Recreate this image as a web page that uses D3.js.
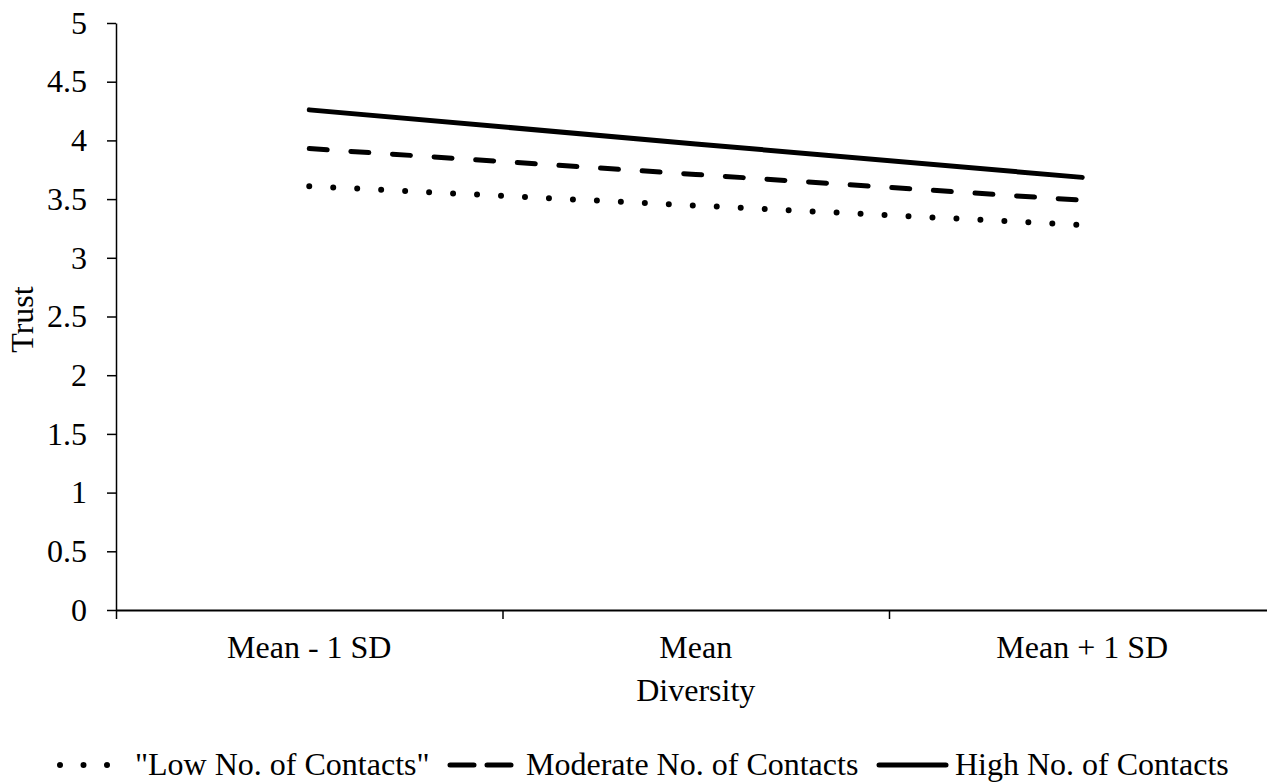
<!DOCTYPE html>
<html>
<head>
<meta charset="utf-8">
<script src="https://cdn.jsdelivr.net/npm/d3@7"></script>
<style>
  html, body { margin: 0; padding: 0; background: #fff; }
  svg { display: block; }
  text { font-family: "Times New Roman", "Liberation Serif", serif; fill: #000; }
</style>
</head>
<body>
<svg id="chart" width="1267" height="782"></svg>
<script>
// ---- data ----
const categories = ["Mean - 1 SD", "Mean", "Mean + 1 SD"];
const seriesNames = ["\"Low No. of Contacts\"", "Moderate No. of Contacts", "High No. of Contacts"];
const lowValues = [3.61, 3.445, 3.28];
const moderateValues = [3.93, 3.71, 3.49];
const highValues = [4.26, 3.97, 3.685];
const yTicks = [0, 0.5, 1, 1.5, 2, 2.5, 3, 3.5, 4, 4.5, 5];
const xTitle = "Diversity";
const yTitle = "Trust";

(function () {
const svg = d3.select("#chart");
const fontSize = 32;

const plotLeft = 116, plotRight = 1275.5, plotTop = 23, plotBottom = 610;

const x = d3.scaleBand().domain(categories).range([plotLeft, plotRight]);
const xEdges = d3.scaleLinear().domain([0, categories.length]).range([plotLeft, plotRight]);
const y = d3.scaleLinear().domain([0, 5]).range([plotBottom, plotTop]);

// Y axis
const yAxis = svg.append("g")
  .attr("transform", `translate(${plotLeft},0)`)
  .call(d3.axisLeft(y).tickValues(yTicks).tickSize(9).tickSizeOuter(0).tickPadding(20)
    .tickFormat(d => String(d)));
yAxis.select(".domain").attr("stroke", "#000").attr("stroke-width", 1.5);
yAxis.selectAll(".tick line").attr("stroke", "#000").attr("stroke-width", 1.5);
yAxis.selectAll(".tick text")
  .attr("font-size", fontSize)
  .attr("font-family", "\"Times New Roman\", \"Liberation Serif\", serif")
  .attr("dy", "0.32em");

// X axis (boundary ticks)
const xAxis = svg.append("g")
  .attr("transform", `translate(0,${plotBottom})`)
  .call(d3.axisBottom(xEdges).tickValues(d3.range(categories.length + 1)).tickSize(9).tickSizeOuter(0).tickFormat(""));
xAxis.select(".domain").attr("stroke", "#000").attr("stroke-width", 2.2);
xAxis.selectAll(".tick line").attr("stroke", "#000").attr("stroke-width", 1.5);

// category labels
svg.append("g").selectAll("text")
  .data(categories)
  .join("text")
  .attr("x", d => x(d) + x.bandwidth() / 2)
  .attr("y", plotBottom + 48)
  .attr("text-anchor", "middle")
  .attr("font-size", fontSize)
  .text(d => d);

// axis titles
svg.append("text")
  .attr("x", x(categories[1]) + x.bandwidth() / 2)
  .attr("y", 701)
  .attr("text-anchor", "middle")
  .attr("font-size", fontSize)
  .text(xTitle);

svg.append("text")
  .attr("transform", `translate(33,${(plotTop + plotBottom) / 2 + 3}) rotate(-90)`)
  .attr("text-anchor", "middle")
  .attr("font-size", fontSize)
  .text(yTitle);

// series
const styles = [
  { width: 6, dash: "0,24" },
  { width: 5, dash: "18,23.7" },
  { width: 5, dash: null }
];
const allValues = [lowValues, moderateValues, highValues];

const line = d3.line()
  .x((d, i) => x(categories[i]) + x.bandwidth() / 2)
  .y(d => y(d));

allValues.forEach((vals, k) => {
  svg.append("path")
    .datum(vals)
    .attr("d", line)
    .attr("fill", "none")
    .attr("stroke", "#000")
    .attr("stroke-width", styles[k].width)
    .attr("stroke-linecap", "round")
    .attr("stroke-dasharray", styles[k].dash);
});

// legend
const legendY = 765, legendBaseline = 775;
const legendItems = [
  { name: seriesNames[0], x1: 60, x2: 108, width: 6, dash: "0,23.5", tx: 135 },
  { name: seriesNames[1], x1: 450, x2: 511, width: 5, dash: "24,13", tx: 526 },
  { name: seriesNames[2], x1: 879, x2: 946, width: 5, dash: null, tx: 955 }
];
const lg = svg.append("g");
legendItems.forEach(it => {
  lg.append("line")
    .attr("x1", it.x1).attr("x2", it.x2)
    .attr("y1", legendY).attr("y2", legendY)
    .attr("stroke", "#000")
    .attr("stroke-width", it.width)
    .attr("stroke-linecap", "round")
    .attr("stroke-dasharray", it.dash);
  lg.append("text")
    .attr("x", it.tx)
    .attr("y", legendBaseline)
    .attr("font-size", fontSize)
    .text(it.name);
});
})();
</script>
</body>
</html>
